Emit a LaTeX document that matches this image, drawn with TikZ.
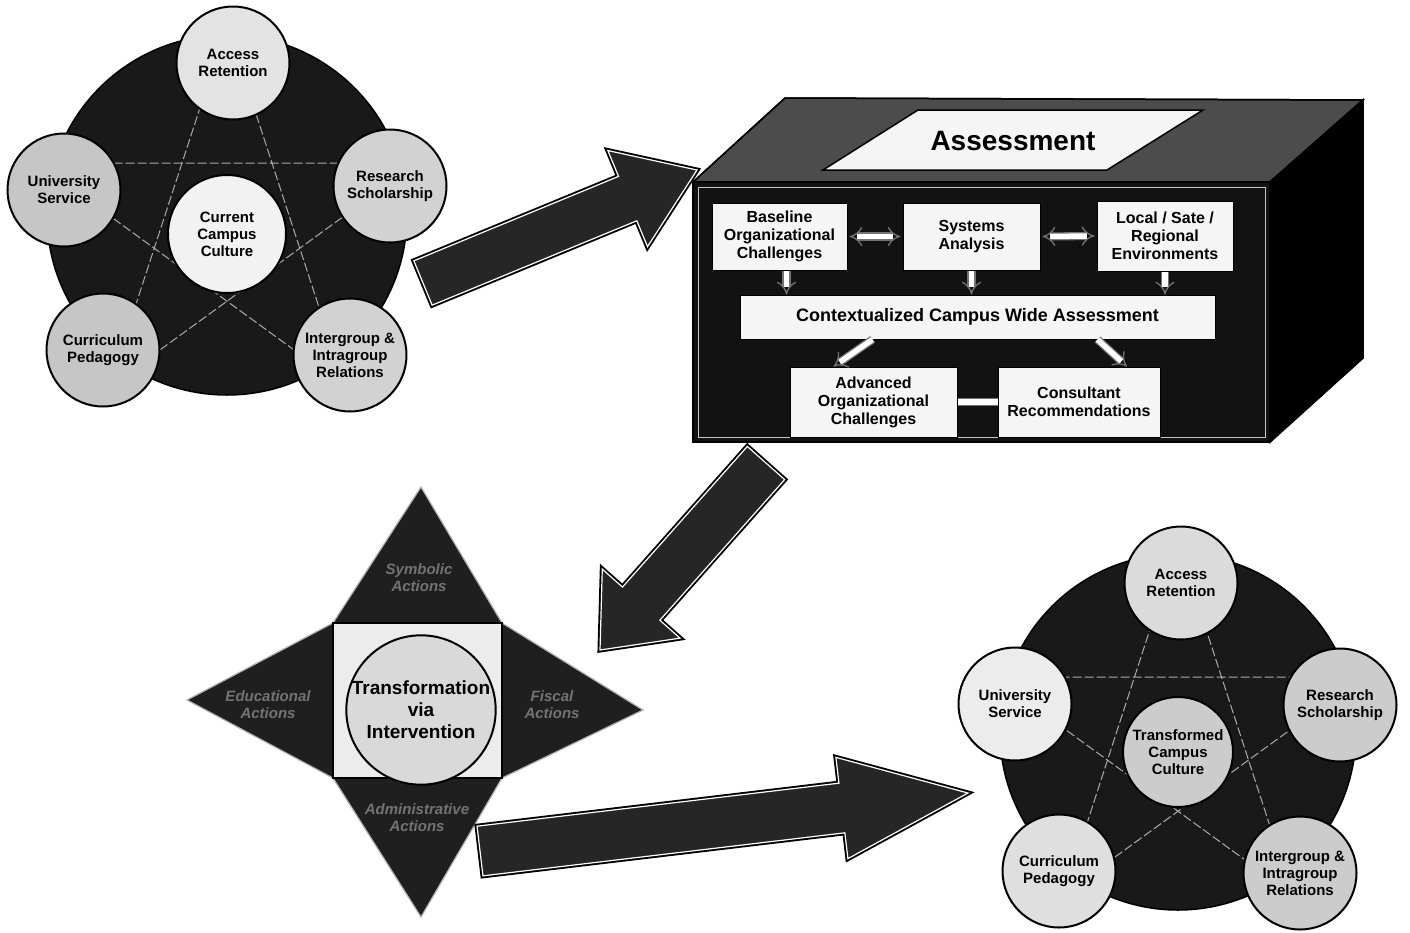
\documentclass[tikz,border=0pt]{standalone}
\usepackage{fontspec}
\setmainfont{Liberation Sans}
\usetikzlibrary{calc,arrows.meta}
\newcommand{\myblockarrow}[5]{%
  \path (#1) coordinate (ba-t) (#2) coordinate (ba-p);
  \path ($(ba-p)!#5!(ba-t)$) coordinate (ba-h);
  \draw[bigarrow] ($(ba-t)!#3!90:(ba-p)$) -- ($(ba-h)!#3!90:(ba-p)$) -- ($(ba-h)!#4!90:(ba-p)$) -- (ba-p)
    -- ($(ba-h)!#4!-90:(ba-p)$) -- ($(ba-h)!#3!-90:(ba-p)$) -- ($(ba-t)!#3!-90:(ba-p)$) -- cycle;
}
\tikzset{
  bgdisk/.style={circle, fill=black!90, draw=black, line width=1.5pt, minimum size=360pt, inner sep=0pt},
  pcirc/.style={circle, draw=black, line width=2pt, minimum size=113pt, inner sep=0pt, align=center,
    font=\fontsize{15}{17}\selectfont\bfseries},
  pent/.style={draw=gray!65, line width=1pt, dash pattern=on 9pt off 3pt},
  inbox/.style={draw=black, line width=1pt, fill=gray!8, align=center, inner sep=2pt,
    font=\fontsize{16}{18}\selectfont\bfseries},
  hollow/.style={double=white, draw=black!55, line width=1.3pt, double distance=5.5pt},
  bigarrow/.style={fill=black!85, draw=white, line width=1.2pt, line join=miter,
    preaction={draw=black, line width=5pt}},
  tri/.style={fill=black!88, draw=gray!60, line width=1.2pt, line join=miter},
  trilabel/.style={text=black!55, align=center, font=\fontsize{15}{17}\selectfont\bfseries\itshape},
  face/.style={draw=black, line width=1.5pt, line join=miter}
}
\begin{document}
\begin{tikzpicture}[x=1pt,y=-1pt]
\useasboundingbox (0,0) rectangle (1410,932);
\fill[white] (0,0) rectangle (1410,932);

% ---------------- top-left: current campus culture ----------------
\node[bgdisk] (tldisk) at (227,215) {};
\coordinate (tpA) at (227,25);
\coordinate (tpU) at (37,163);
\coordinate (tpR) at (417,163);
\coordinate (tpC) at (109,387);
\coordinate (tpI) at (345,387);
\draw[pent] (tpA) -- (tpC) -- (tpR) -- (tpU) -- (tpI) -- cycle;
\node[pcirc, fill=gray!22] (tlA) at (233,63) {Access\\Retention};
\node[pcirc, fill=gray!45] (tlU) at (64,190) {University\\Service};
\node[pcirc, fill=gray!35] (tlR) at (390,186) {Research\\Scholarship};
\node[pcirc, fill=gray!45] (tlC) at (103,350) {Curriculum\\Pedagogy};
\node[pcirc, fill=gray!35] (tlI) at (350,355) {Intergroup \&\\Intragroup\\Relations};
\node[pcirc, fill=gray!10, minimum size=118pt] (tlM) at (227,234) {Current\\Campus\\Culture};

% ---------------- assessment box ----------------
\coordinate (bxA) at (693,182);
\coordinate (bxB) at (1270,182);
\coordinate (bxC) at (1270,442);
\coordinate (bxD) at (693,442);
\coordinate (bxE) at (785,98);
\coordinate (bxF) at (1363,100);
\coordinate (bxG) at (1363,358);
\fill[black!70, face] (bxA) -- (bxE) -- (bxF) -- (bxB) -- cycle;
\fill[black, face] (bxB) -- (bxF) -- (bxG) -- (bxC) -- cycle;
\fill[black!93, face] (bxA) rectangle (bxC);
\draw[face] (bxA) -- (bxE) -- (bxF) -- (bxB) -- cycle;
\draw[face] (bxB) -- (bxF) -- (bxG) -- (bxC) -- cycle;
\draw[gray!45, line width=0.8pt] (698,187) rectangle (1265,437);
\coordinate (lpA) at (823,170);
\coordinate (lpB) at (918,110);
\coordinate (lpC) at (1203,110);
\coordinate (lpD) at (1107,170);
\filldraw[fill=gray!8, draw=black, line width=1.5pt] (lpA) -- (lpB) -- (lpC) -- (lpD) -- cycle;
\node[font=\fontsize{28}{32}\selectfont\bfseries] (asst) at (1013,141) {Assessment};

\node[inbox, minimum width=135pt, minimum height=67pt] (base) at (779.5,236.5) {Baseline\\Organizational\\Challenges};
\node[inbox, minimum width=137pt, minimum height=67pt] (sys) at (971.5,236.5) {Systems\\Analysis};
\node[inbox, minimum width=136pt, minimum height=70pt] (loc) at (1165,236) {Local / Sate /\\Regional\\Environments};
\node[inbox, minimum width=475pt, minimum height=44pt, font=\fontsize{18}{20}\selectfont\bfseries] (ctx) at (977.5,317) {Contextualized Campus Wide Assessment};
\node[inbox, minimum width=167pt, minimum height=70pt] (adv) at (873.5,402) {Advanced\\Organizational\\Challenges};
\node[inbox, minimum width=162pt, minimum height=70pt] (cons) at (1079,402) {Consultant\\Recommendations};

\draw[hollow, Implies-Implies] ([xshift=2pt]base.east) -- ([xshift=-2pt]sys.west);
\draw[hollow, Implies-Implies] ([xshift=2pt]sys.east) -- ([xshift=-2pt]loc.west);
\draw[hollow, -Implies] ([xshift=7pt]base.south) -- ([xshift=7pt]base.south |- ctx.north);
\draw[hollow, -Implies] (sys.south) -- (sys.south |- ctx.north);
\draw[hollow, -Implies] (loc.south) -- (loc.south |- ctx.north);
\draw[hollow, -Implies] ([xshift=-105pt]ctx.south) -- ([xshift=-40pt]adv.north);
\draw[hollow, -Implies] ([xshift=120pt]ctx.south) -- ([xshift=48pt]cons.north);
\draw[hollow] (adv.east) -- (cons.west);

% ---------------- star: transformation via intervention ----------------
\coordinate (sqA) at (333,623);
\coordinate (sqB) at (502,623);
\coordinate (sqC) at (502,778);
\coordinate (sqD) at (333,778);
\coordinate (stT) at (421,487);
\coordinate (stL) at (187,700);
\coordinate (stR) at (643,710);
\coordinate (stB) at (421,917);
\draw[tri] (sqA) -- (stT) -- (sqB) -- cycle;
\draw[tri] (sqA) -- (stL) -- (sqD) -- cycle;
\draw[tri] (sqB) -- (stR) -- (sqC) -- cycle;
\draw[tri] (sqD) -- (stB) -- (sqC) -- cycle;
\filldraw[fill=gray!15, draw=black, line width=1.5pt] (sqA) rectangle (sqC);
\node[trilabel] (tsym) at (419,578) {Symbolic\\Actions};
\node[trilabel] (tedu) at (268,705) {Educational\\Actions};
\node[trilabel] (tfis) at (552,705) {Fiscal\\Actions};
\node[trilabel] (tadm) at (417,818) {Administrative\\Actions};
\node[circle, draw=black, line width=2pt, fill=gray!30, minimum size=144pt, inner sep=0pt, align=center,
  font=\fontsize{19}{22}\selectfont\bfseries] (tvi) at (421,710) {Transformation\\via\\Intervention};

% ---------------- bottom-right: transformed campus culture ----------------
\node[bgdisk, minimum size=356pt] (brdisk) at (1178,732) {};
\coordinate (bpA) at (1178,543);
\coordinate (bpU) at (993,677);
\coordinate (bpR) at (1363,677);
\coordinate (bpC) at (1064,894);
\coordinate (bpI) at (1292,894);
\draw[pent] (bpA) -- (bpC) -- (bpR) -- (bpU) -- (bpI) -- cycle;
\node[pcirc, fill=gray!28] (brA) at (1181,583) {Access\\Retention};
\node[pcirc, fill=gray!15] (brU) at (1015,704) {University\\Service};
\node[pcirc, fill=gray!40] (brR) at (1340,705) {Research\\Scholarship};
\node[pcirc, fill=gray!25] (brC) at (1059,871) {Curriculum\\Pedagogy};
\node[pcirc, fill=gray!40] (brI) at (1300,873) {Intergroup \&\\Intragroup\\Relations};
\node[pcirc, fill=gray!40, minimum size=110pt] (brM) at (1178,752) {Transformed\\Campus\\Culture};

% ---------------- block arrows ----------------
\coordinate (ar1t) at (423,283);
\coordinate (ar1p) at (697,170);
\myblockarrow{ar1t}{ar1p}{24pt}{52pt}{75pt}
\coordinate (ar2t) at (766,463);
\coordinate (ar2p) at (600,650);
\myblockarrow{ar2t}{ar2p}{25pt}{52pt}{62pt}
\coordinate (ar3t) at (480,851);
\coordinate (ar3p) at (968,793);
\myblockarrow{ar3t}{ar3p}{25pt}{51pt}{127pt}
\end{tikzpicture}
\end{document}
